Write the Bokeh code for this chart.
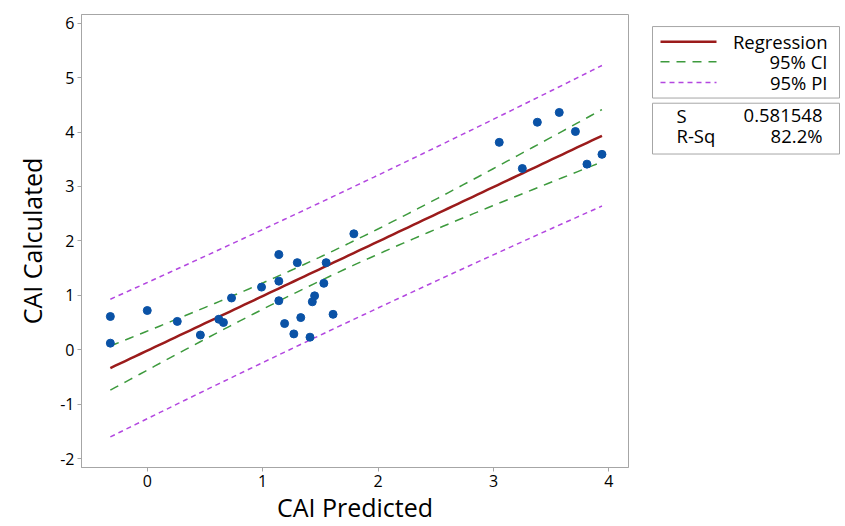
import numpy as np
from bokeh.plotting import figure
from bokeh.layouts import row
from bokeh.models import Range1d, FixedTicker
from bokeh.core.properties import value
from bokeh.embed import file_html
from bokeh.resources import INLINE

# ---- data ----
cai_predicted = [-0.32, -0.32, 0.00, 0.26, 0.46, 0.62, 0.66, 0.73,
                 0.99, 1.14, 1.14, 1.14, 1.30, 1.19, 1.27, 1.33, 1.41,
                 1.43, 1.45, 1.53, 1.55, 1.61, 1.79,
                 3.05, 3.25, 3.38, 3.57, 3.71, 3.81, 3.94]
cai_calculated = [0.61, 0.12, 0.72, 0.52, 0.27, 0.56, 0.50, 0.95,
                  1.15, 1.75, 1.26, 0.90, 1.60, 0.48, 0.29, 0.59, 0.23,
                  0.88, 0.99, 1.22, 1.60, 0.65, 2.13,
                  3.81, 3.33, 4.18, 4.36, 4.01, 3.41, 3.59]
x_ticks = [0, 1, 2, 3, 4]
y_ticks = [-2, -1, 0, 1, 2, 3, 4, 5, 6]
legend_labels = ["Regression", "95% CI", "95% PI"]
stat_names = ["S", "R-Sq"]
stat_values = ["0.581548", "82.2%"]
t_crit = 2.048  # t(0.975, 28)

FONT = "Open Sans"
RED = "#9b1b1b"
GREEN = "#3d9a3d"
PURPLE = "#b347e0"
BLUE = "#0a52a6"
GRAY = "#a6a6a6"
TXT = "#000000"

# ---- regression fit (Minitab fitted line plot) ----
x = np.array(cai_predicted)
y = np.array(cai_calculated)
n = len(x)
b1, b0 = np.polyfit(x, y, 1)
resid = y - (b0 + b1 * x)
s = np.sqrt(np.sum(resid ** 2) / (n - 2))
sxx = np.sum((x - x.mean()) ** 2)
xs = np.linspace(x.min(), x.max(), 100)
fit = b0 + b1 * xs
se_ci = s * np.sqrt(1.0 / n + (xs - x.mean()) ** 2 / sxx)
se_pi = s * np.sqrt(1.0 + 1.0 / n + (xs - x.mean()) ** 2 / sxx)

p = figure(width=640, height=526, output_backend="svg", toolbar_location=None,
           x_range=Range1d(-0.57, 4.17), y_range=Range1d(-2.165, 6.16),
           min_border_left=81, min_border_right=12, min_border_top=14,
           min_border_bottom=58)
p.background_fill_color = "white"
p.border_fill_color = "white"
p.outline_line_color = GRAY
p.outline_line_width = 1
p.xgrid.visible = False
p.ygrid.visible = False

p.line(xs, fit - t_crit * se_pi, line_color=PURPLE, line_width=1.5, line_dash="5 4")
p.line(xs, fit + t_crit * se_pi, line_color=PURPLE, line_width=1.5, line_dash="5 4")
p.line(xs, fit - t_crit * se_ci, line_color=GREEN, line_width=1.5, line_dash="9 7")
p.line(xs, fit + t_crit * se_ci, line_color=GREEN, line_width=1.5, line_dash="9 7")
p.line(xs, fit, line_color=RED, line_width=2.5)
p.scatter(x, y, size=8, fill_color=BLUE, line_color=BLUE)

for ax in (p.xaxis[0], p.yaxis[0]):
    ax.axis_line_color = GRAY
    ax.major_tick_line_color = GRAY
    ax.major_tick_out = 4
    ax.major_tick_in = 0
    ax.minor_tick_line_color = None
    ax.major_label_text_font = FONT
    ax.major_label_text_font_size = "16px"
    ax.major_label_text_color = TXT
    ax.axis_label_text_font = FONT
    ax.axis_label_text_font_size = "25px"
    ax.axis_label_text_font_style = "normal"
    ax.axis_label_text_color = TXT

p.xaxis.ticker = FixedTicker(ticks=x_ticks)
p.yaxis.ticker = FixedTicker(ticks=y_ticks)
p.yaxis.major_label_overrides = {t: str(t) for t in y_ticks}
p.xaxis.major_label_overrides = {t: str(t) for t in x_ticks}
p.xaxis.axis_label = "CAI Predicted"
p.yaxis.axis_label = "CAI Calculated"
p.xaxis.major_label_standoff = 3
p.yaxis.major_label_standoff = 3
p.xaxis.axis_label_standoff = 0
p.yaxis.axis_label_standoff = 8

# ---- legend panel ----
q = figure(width=205, height=526, output_backend="svg", toolbar_location=None,
           x_range=Range1d(640, 845), y_range=Range1d(526, 0),
           min_border=0, min_border_left=0, min_border_right=0,
           min_border_top=0, min_border_bottom=0)
q.axis.visible = False
q.grid.visible = False
q.outline_line_color = None
q.background_fill_color = "white"
q.border_fill_color = "white"

q.quad(left=[652, 652], right=[839, 839], top=[14, 103], bottom=[97, 162],
       fill_color=None, line_color=GRAY, line_width=1)
q.line([660, 716], [31.5, 31.5], line_color=RED, line_width=2.5)
q.line([660, 716], [55, 55], line_color=GREEN, line_width=1.5, line_dash="9 7")
q.line([660, 716], [79, 79], line_color=PURPLE, line_width=1.5, line_dash="5 4")
q.text(x=[827, 827, 827], y=[31, 55, 79], text=legend_labels,
       text_align="right", text_baseline="middle",
       text_font=value(FONT), text_font_size="18.5px", text_color=TXT)
q.text(x=[676, 676], y=[117, 141], text=stat_names,
       text_align="left", text_baseline="middle",
       text_font=value(FONT), text_font_size="18.5px", text_color=TXT)
q.text(x=[822, 822], y=[117, 141], text=stat_values,
       text_align="right", text_baseline="middle",
       text_font=value(FONT), text_font_size="18.5px", text_color=TXT)

layout = row(p, q)
open("out.html", "w").write(file_html(layout, INLINE))
